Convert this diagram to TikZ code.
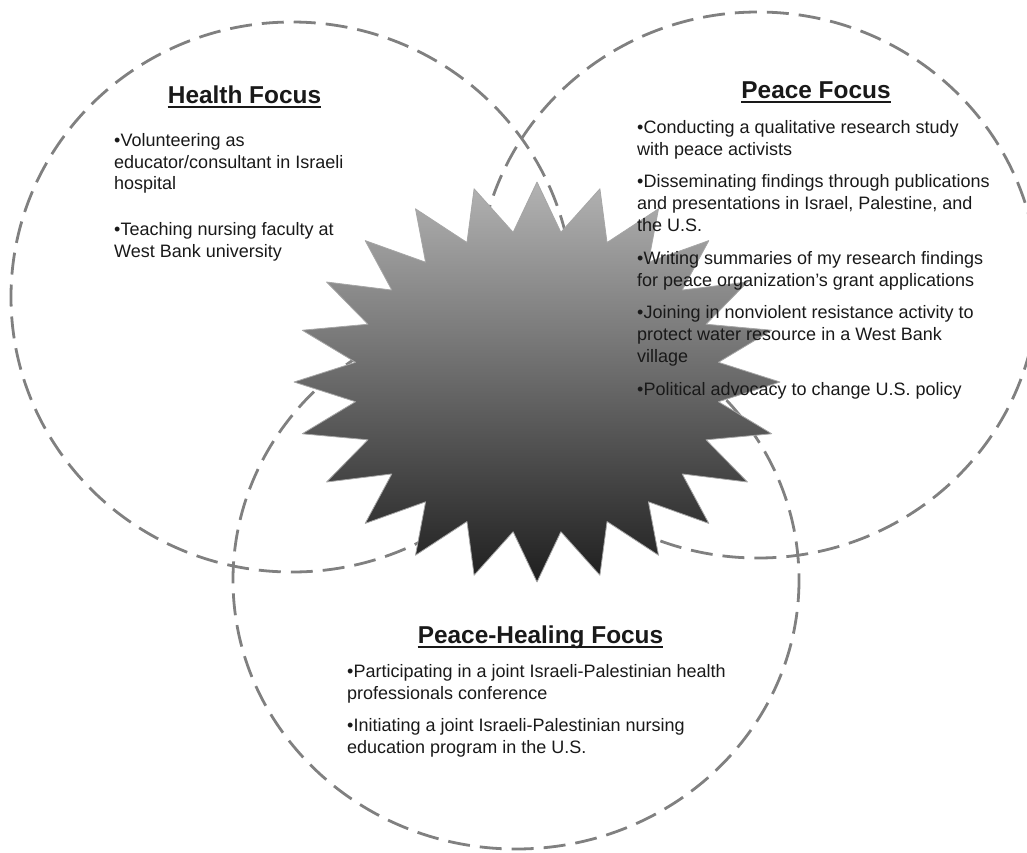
\documentclass[tikz,border=0pt]{standalone}
\usepackage{fontspec}
\setmainfont{Liberation Sans}

\begin{document}
\begin{tikzpicture}[x=1pt,y=-1pt,line join=round]
\tikzset{
    focus/.style= {draw=black!50, line width=2.8pt, dash pattern=on 22pt off 10pt},
    burst/.style= {draw=black!35, line width=0.8pt, top color=black!30, middle color=black!52, bottom color=black!88},
    title/.style= {font=\fontsize{24.4}{28}\selectfont\bfseries, text=black!90, inner sep=0pt, anchor=base},
    items/.style= {font=\fontsize{18}{21.8}\selectfont, text=black!90, align=left, inner sep=0pt, anchor=north west},
    rule/.style=  {line width=2.4pt, black!90}
}
\useasboundingbox (0,0) rectangle (1027,852);

%% The three dashed circles
\draw[focus] (292,297) ellipse (281 and 275);
\draw[focus] (758,285) ellipse (280 and 273);
\draw[focus] (516,580) ellipse (283 and 269);

%% Star in the middle
\begin{scope}[shift={(537,382)}]
\draw[burst] (0:243 and 200) \foreach \a in {0,15,...,345}{ -- (\a+7.5:183 and 151) -- (\a+15:243 and 200)} -- cycle;
\end{scope}

%% Titles
\node[title] (healthT) at (244.5,103) {Health Focus};
\node[title] (peaceT) at (816,98) {Peace Focus};
\node[title] (healingT) at (540.5,643) {Peace-Healing Focus};
\draw[rule] ([yshift=-4pt]healthT.base west) -- ([yshift=-4pt]healthT.base east);
\draw[rule] ([yshift=-4pt]peaceT.base west) -- ([yshift=-4pt]peaceT.base east);
\draw[rule] ([yshift=-4pt]healingT.base west) -- ([yshift=-4pt]healingT.base east);

%% Lists
\node[items] (healthL) at (114,133) {•Volunteering as\\educator/consultant in Israeli\\hospital\\[24pt]•Teaching nursing faculty at\\West Bank university};
\node[items] (peaceL) at (637,120) {•Conducting a qualitative research study\\with peace activists\\[11pt]•Disseminating findings through publications\\and presentations in Israel, Palestine, and\\the U.S.\\[11pt]•Writing summaries of my research findings\\for peace organization’s grant applications\\[11pt]•Joining in nonviolent resistance activity to\\protect water resource in a West Bank\\village\\[11pt]•Political advocacy to change U.S. policy};
\node[items] (healingL) at (347,664) {•Participating in a joint Israeli-Palestinian health\\professionals conference\\[11pt]•Initiating a joint Israeli-Palestinian nursing\\education program in the U.S.};

\end{tikzpicture}
\end{document}
